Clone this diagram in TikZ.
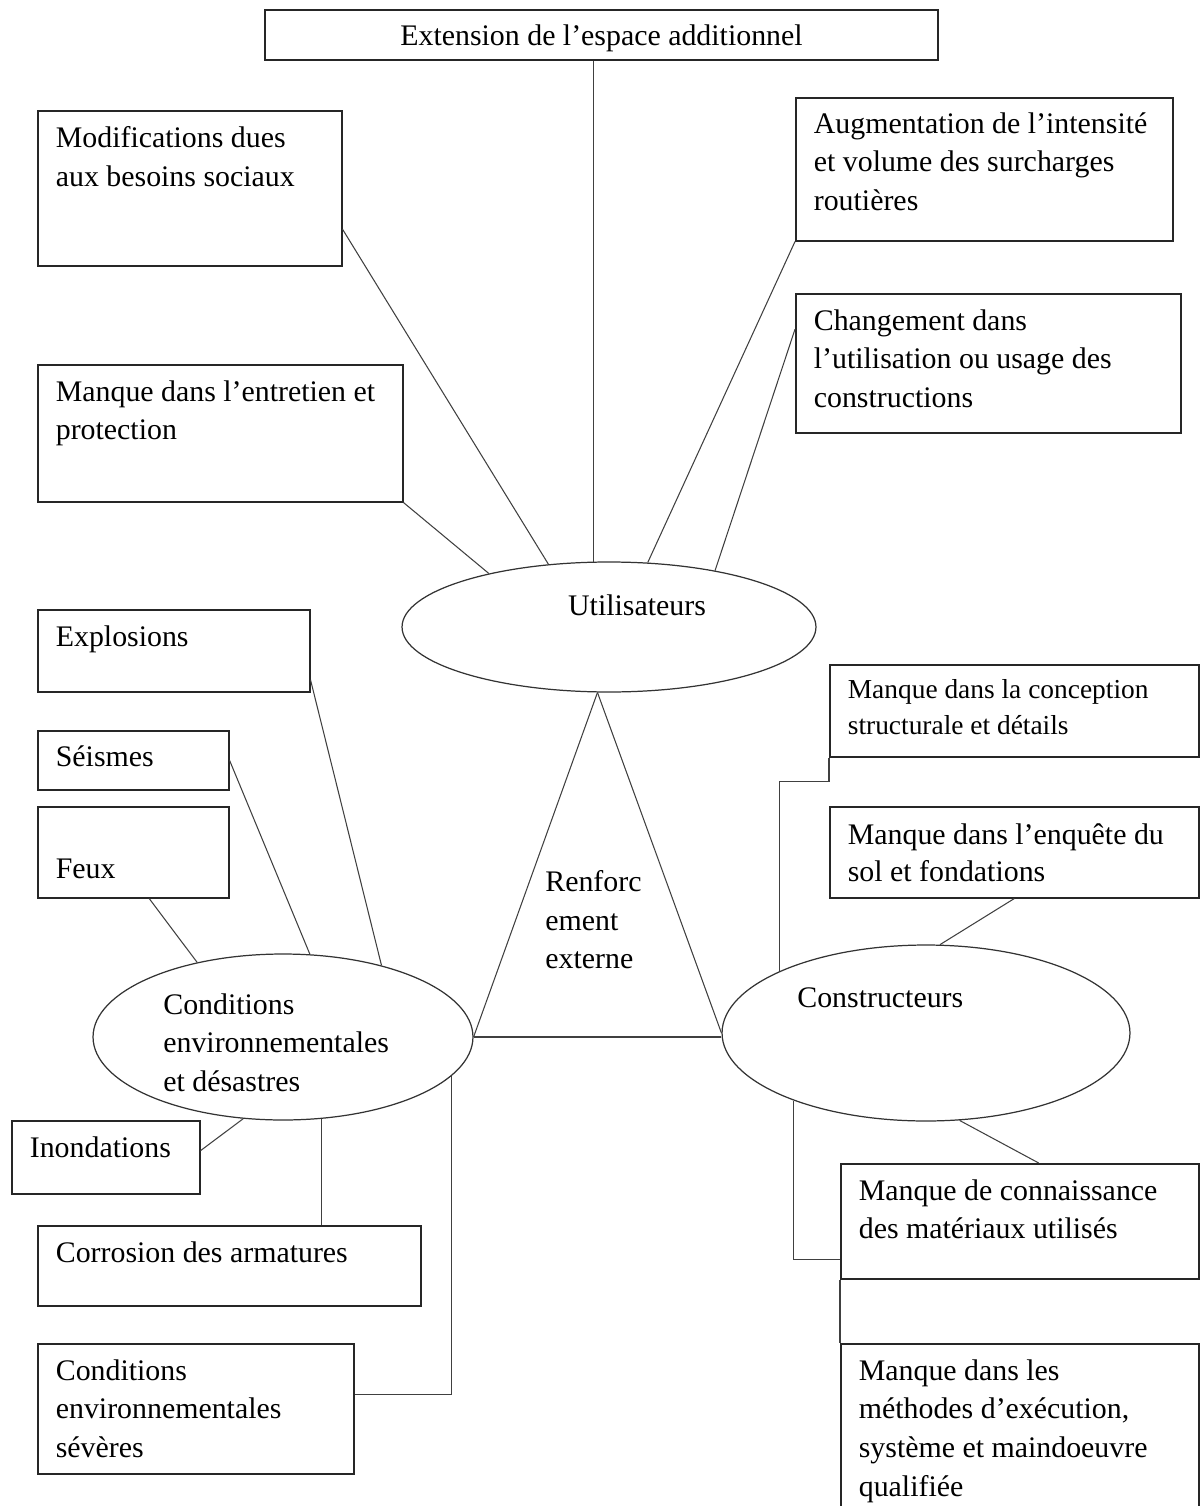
\documentclass[tikz,border=0pt]{standalone}
\usepackage{fontspec}
\setmainfont{Liberation Serif}
\usetikzlibrary{shapes.geometric, calc}

\begin{document}
\begin{tikzpicture}[
    x=0.02cm, y=-0.02cm,
    font=\fontsize{17}{22}\selectfont,
    % boxes for the causes, text set at their top left
    causebox/.style={rectangle, draw=black!85, line width=0.9pt, anchor=north west, inner sep=0pt},
    causetext/.style={anchor=north west, align=left, inner sep=0pt, xshift=0.37cm, yshift=#1},
    causetext/.default=-0.32cm,
    hub/.style={ellipse, draw=black!80, line width=0.7pt, inner sep=0pt},
    hubtext/.style={anchor=north west, align=left, inner sep=0pt},
    link/.style={draw=black!75, line width=0.6pt},
]
\useasboundingbox (0,0) rectangle (1203,1506);

% -------------------------
% Utilisateurs
% -------------------------
\node (ext) [causebox, anchor=center, minimum width=13.46cm, minimum height=1cm, text depth=0pt] at (601.5,35) {Extension de l’espace additionnel};
\node (mod) [causebox, minimum width=6.08cm, minimum height=3.1cm, label={[causetext]north west:Modifications dues\\aux besoins sociaux}] at (37,110) {};
\node (entr) [causebox, minimum width=7.3cm, minimum height=2.74cm, label={[causetext]north west:Manque dans l’entretien et\\protection}] at (37,364) {};
\node (augm) [causebox, minimum width=7.54cm, minimum height=2.86cm, label={[causetext=-0.30cm]north west:Augmentation de l’intensité\\et volume des surcharges\\routières}] at (795,97) {};
\node (chang) [causebox, minimum width=7.7cm, minimum height=2.78cm, label={[causetext]north west:Changement dans\\l’utilisation ou usage des\\constructions}] at (795,293) {};

% -------------------------
% Conditions environnementales
% -------------------------
\node (expl) [causebox, minimum width=5.44cm, minimum height=1.64cm, label={[causetext]north west:Explosions}] at (37,609) {};
\node (seis) [causebox, minimum width=3.82cm, minimum height=1.18cm, label={[causetext=-0.30cm]north west:Séismes}] at (37,730) {};
\node (feux) [causebox, minimum width=3.82cm, minimum height=1.82cm, label={[causetext=-1.06cm]north west:Feux}] at (37,806) {};
\node (inond) [causebox, minimum width=3.76cm, minimum height=1.46cm, label={[causetext]north west:Inondations}] at (11,1120) {};
\node (corr) [causebox, minimum width=7.66cm, minimum height=1.6cm, label={[causetext]north west:Corrosion des armatures}] at (37,1225) {};
\node (condsev) [causebox, minimum width=6.32cm, minimum height=2.6cm, label={[causetext]north west:Conditions\\environnementales\\sévères}] at (37,1343) {};

% -------------------------
% Constructeurs
% -------------------------
\node (concept) [causebox, minimum width=7.38cm, minimum height=1.84cm, label={[causetext=-0.30cm, font=\fontsize{15.6}{20.5}\selectfont]north west:Manque dans la conception\\structurale et détails}] at (829,664) {};
\node (enq) [causebox, minimum width=7.38cm, minimum height=1.82cm, label={[causetext=-0.34cm, font=\fontsize{17}{21}\selectfont]north west:Manque dans l’enquête du\\sol et fondations}] at (829,806) {};
\node (conn) [causebox, minimum width=7.16cm, minimum height=2.3cm, label={[causetext]north west:Manque de connaissance\\des matériaux utilisés}] at (840,1163) {};
\node (meth) [causebox, minimum width=7.16cm, minimum height=3.6cm, label={[causetext]north west:Manque dans les\\méthodes d’exécution,\\système et maindoeuvre\\qualifiée}] at (840,1343) {};

% -------------------------
% The three hubs
% -------------------------
\node (util) [hub, minimum width=8.28cm, minimum height=2.6cm] at (609,627) {};
\node (cond) [hub, minimum width=7.6cm, minimum height=3.32cm] at (283,1037) {};
\node (constr) [hub, minimum width=8.16cm, minimum height=3.52cm] at (926,1033) {};

\node (utiltxt) at (637,605) {Utilisateurs};
\node (condtxt) [hubtext] at (163,993) {Conditions\\environnementales\\et désastres};
\node (constrtxt) [hubtext] at (797,987) {Constructeurs};
\node (renf) [hubtext] at (545,870) {Renforc\\ement\\externe};

% -------------------------
% Links
% -------------------------
\draw[link] (ext.south -| util.103) -- (util.103);
\draw[link] (mod.345) -- (util.134);
\draw[link] (entr.south east) -- (util.156);
\draw[link] (augm.south west) -- (util.59);
\draw[link] (chang.170) -- (util.28);

% triangle between the hubs
\draw[link] (util.260) -- (cond.east);
\draw[link] (util.260) -- (constr.west);
\draw[link] (cond.east) -- (cond.east -| constr.west);

% environment side
\draw[link] (expl.348) -- (cond.36);
\draw[link] (seis.east) -- (cond.72);
\draw[link] (feux.289) -- (cond.139);
\draw[link] (inond.4) -- (cond.244);
\draw[link] (cond.295) -- (cond.295 |- corr.north);
\draw[link] (cond.347) |- (condsev.5);

% builders side
\draw[link] (constr.157) |- ($(concept.south west)+(0,24)$) -- (concept.south west);
\draw[link] (enq.south) -- (constr.81);
\draw[link] (constr.291) -- (conn.72);
\draw[link] (constr.207) |- ($(conn.south west)+(0,-20)$);
\draw[link] (conn.south west) -- (meth.north west);

\end{tikzpicture}
\end{document}
